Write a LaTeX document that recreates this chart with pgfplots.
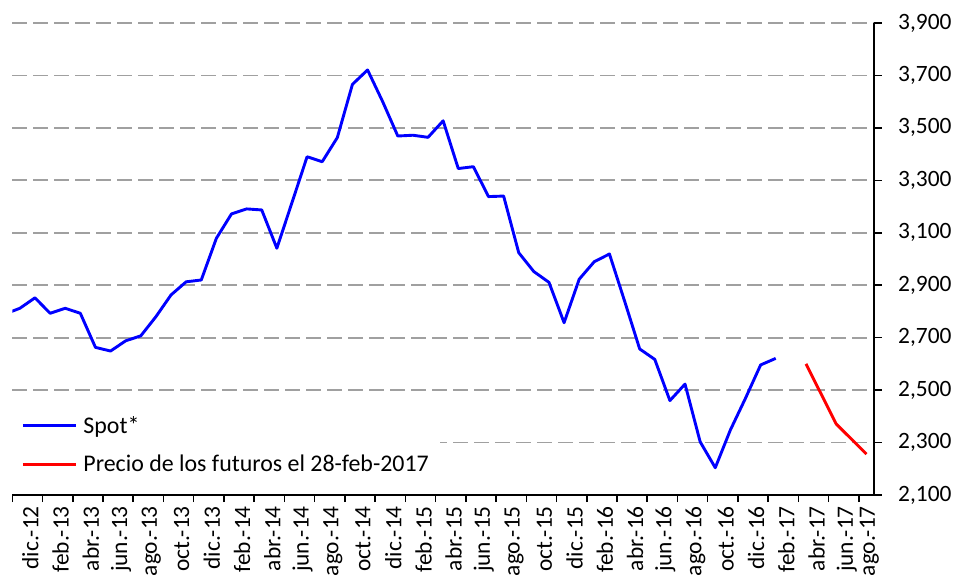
\documentclass[border=0pt]{standalone}
\usepackage{pgfplots}
\pgfplotsset{compat=1.18}
\usepackage{fontspec}
\setmainfont{Carlito}
\definecolor{gridgray}{RGB}{160,160,160}
\begin{document}
\begin{tikzpicture}
\useasboundingbox (-12.3bp,-89bp) rectangle (943.7bp,472bp+23bp);
\begin{axis}[
  scale only axis, width=861.7bp, height=472bp,
  xmin=-0.5, xmax=56.5, ymin=2100, ymax=3900,
  axis x line*=bottom, axis y line*=right,
  axis line style={line width=1.5bp, black},
  tick align=outside,
  xtick={0.5,2.5,4.5,6.5,8.5,10.5,12.5,14.5,16.5,18.5,20.5,22.5,24.5,26.5,28.5,30.5,32.5,34.5,36.5,38.5,40.5,42.5,44.5,46.5,48.5,50.5,52.5,54.5,56},
  xticklabels={dic.-12,feb.-13,abr.-13,jun.-13,ago.-13,oct.-13,dic.-13,feb.-14,abr.-14,jun.-14,ago.-14,oct.-14,dic.-14,feb.-15,abr.-15,jun.-15,ago.-15,oct.-15,dic.-15,feb.-16,abr.-16,jun.-16,ago.-16,oct.-16,dic.-16,feb.-17,abr.-17,jun.-17,ago.-17},
  major x tick style={draw=none},
  minor xtick={-0.5,1.5,...,55.5},
  minor tick length=7bp,
  major tick length=7.7bp,
  minor x tick style={line width=1.5bp, black},
  ytick={2100,2300,...,3900},
  major y tick style={line width=1.5bp, black},
  ymajorgrids,
  major grid style={gridgray, line width=1.8bp, dash pattern=on 14.3bp off 6.7bp},
  xticklabel style={rotate=90, anchor=east, yshift=-3bp, font=\fontsize{23.5}{28}\selectfont},
  yticklabel style={anchor=west, xshift=13bp, font=\fontsize{23.5}{28}\selectfont},
  /pgf/number format/.cd, 1000 sep={,}, assume math mode=true,
  /pgfplots/.cd,
  legend style={at={(axis description cs:0,0.029)}, anchor=south west, draw=none, fill=white,
    font=\fontsize{24}{29}\selectfont, row sep=16bp, column sep=4bp, inner xsep=9bp, inner ysep=6bp,
    nodes={inner sep=2bp}},
  legend cell align=left,
  legend image code/.code={\draw[#1] (0bp,0bp) -- (53bp,0bp);},
]
\addplot[color={rgb,255:red,0;green,0;blue,255}, line width=2.9bp, line join=round] coordinates {
(-1,2790) (0,2812) (1,2852) (2,2793) (3,2812) (4,2793) (5,2663) (6,2649) (7,2688) (8,2707)
(9,2780) (10,2863) (11,2913) (12,2920) (13,3079) (14,3172) (15,3191) (16,3187) (17,3041) (18,3215)
(19,3390) (20,3371) (21,3463) (22,3666) (23,3721) (24,3600) (25,3469) (26,3472) (27,3464) (28,3527)
(29,3345) (30,3352) (31,3238) (32,3240) (33,3024) (34,2952) (35,2911) (36,2757) (37,2923) (38,2990)
(39,3019) (40,2840) (41,2657) (42,2617) (43,2460) (44,2523) (45,2303) (46,2204) (47,2348) (48,2469)
(49,2596) (50,2621)
};
\addlegendentry{Spot*}
\addplot[color={rgb,255:red,255;green,0;blue,0}, line width=2.9bp, line join=round] coordinates {
(52,2600) (54,2371) (56,2256)
};
\addlegendentry{Precio de los futuros el 28-feb-2017}
\end{axis}
\end{tikzpicture}
\end{document}
